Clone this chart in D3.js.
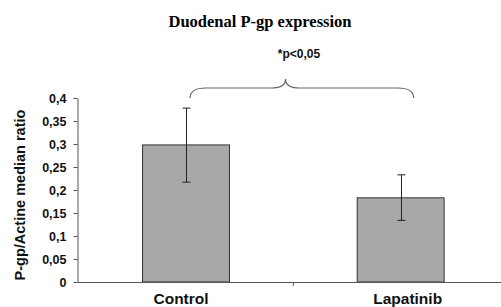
<!DOCTYPE html>
<html>
<head>
<meta charset="utf-8">
<script src="https://cdn.jsdelivr.net/npm/d3@7"></script>
<style>
  body { margin: 0; background: #fff; }
  svg { display: block; }
</style>
</head>
<body>
<div id="chart"></div>
<script>
// data
var categories = ["Control", "Lapatinib"];
var values     = [0.298, 0.183];
var errLow     = [0.217, 0.134];
var errHigh    = [0.378, 0.233];
var yTicks     = [0, 0.05, 0.1, 0.15, 0.2, 0.25, 0.3, 0.35, 0.4];

var width = 501, height = 307;
var sans = '"Liberation Sans", Arial, sans-serif';

var svg = d3.select('#chart').append('svg')
    .attr('width', width)
    .attr('height', height);

var x = d3.scaleBand()
    .domain(categories)
    .range([78.7, 508])
    .paddingInner(0.595)
    .paddingOuter(0.2975);

var y = d3.scaleLinear()
    .domain([0, 0.4])
    .range([282, 98]);

var fmt = function(d) { return String(d).replace('.', ','); };

// title
svg.append('text')
    .attr('x', 260)
    .attr('y', 27)
    .attr('text-anchor', 'middle')
    .attr('font-family', '"Liberation Serif", "Times New Roman", serif')
    .attr('font-weight', 'bold')
    .attr('font-size', '16.5px')
    .text('Duodenal P-gp expression');

// y axis
var yAxis = svg.append('g')
    .attr('transform', 'translate(77.5,0)')
    .call(d3.axisLeft(y).tickValues(yTicks).tickFormat(fmt).tickSize(4).tickSizeOuter(0));
yAxis.select('.domain').attr('stroke', '#555');
yAxis.selectAll('.tick line').attr('stroke', '#555');
yAxis.selectAll('.tick text')
    .attr('x', -11)
    .attr('font-family', sans)
    .attr('font-weight', 'bold')
    .attr('font-size', '12.5px')
    .attr('fill', '#111');

// y title
svg.append('text')
    .attr('transform', 'translate(25,' + (y(0.2) + 5) + ') rotate(-90)')
    .attr('text-anchor', 'middle')
    .attr('font-family', sans)
    .attr('font-weight', 'bold')
    .attr('font-size', '14.5px')
    .attr('fill', '#111')
    .text('P-gp/Actine median ratio');

// bars
svg.selectAll('.bar')
    .data(categories)
    .enter()
    .append('rect')
    .attr('class', 'bar')
    .attr('x', function(d) { return x(d); })
    .attr('y', function(d, i) { return y(values[i]); })
    .attr('width', x.bandwidth())
    .attr('height', function(d, i) { return y(0) - y(values[i]); })
    .attr('fill', '#a8a8a8')
    .attr('stroke', '#333')
    .attr('stroke-width', 1);

// x axis (category boundaries as ticks)
var x0 = x.range()[0], x1 = x.range()[1];
svg.append('line')
    .attr('x1', x0 - 1).attr('x2', x1)
    .attr('y1', y(0) + 0.5).attr('y2', y(0) + 0.5)
    .attr('stroke', '#555');
var mid = (x(categories[0]) + x.bandwidth() / 2 + x(categories[1]) + x.bandwidth() / 2) / 2;
svg.append('line')
    .attr('x1', mid).attr('x2', mid)
    .attr('y1', y(0)).attr('y2', y(0) + 4)
    .attr('stroke', '#555');

var labelShift = [-5, 7];
svg.selectAll('.xlab')
    .data(categories)
    .enter()
    .append('text')
    .attr('class', 'xlab')
    .attr('x', function(d, i) { return x(d) + x.bandwidth() / 2 + labelShift[i]; })
    .attr('y', 304)
    .attr('text-anchor', 'middle')
    .attr('font-family', sans)
    .attr('font-weight', 'bold')
    .attr('font-size', '15.5px')
    .attr('fill', '#111')
    .text(function(d) { return d; });

// error bars
var eb = svg.selectAll('.err')
    .data(categories)
    .enter()
    .append('g')
    .attr('class', 'err')
    .attr('stroke', '#222')
    .attr('stroke-width', 1);
var cx = function(d) { return Math.round(x(d) + x.bandwidth() / 2) + 0.5; };
eb.append('line')
    .attr('x1', cx).attr('x2', cx)
    .attr('y1', function(d, i) { return y(errHigh[i]); })
    .attr('y2', function(d, i) { return y(errLow[i]); });
eb.append('line')
    .attr('x1', function(d) { return cx(d) - 4; }).attr('x2', function(d) { return cx(d) + 4; })
    .attr('y1', function(d, i) { return y(errHigh[i]); })
    .attr('y2', function(d, i) { return y(errHigh[i]); });
eb.append('line')
    .attr('x1', function(d) { return cx(d) - 4; }).attr('x2', function(d) { return cx(d) + 4; })
    .attr('y1', function(d, i) { return y(errLow[i]); })
    .attr('y2', function(d, i) { return y(errLow[i]); });

// significance brace
var bl = x(categories[0]) + x.bandwidth() / 2 + 4;
var br = x(categories[1]) + x.bandwidth() / 2 + 13;
var bt = 285.5, yEnd = y(0.4), yMid = 88, yTip = 79;
var brace = d3.path();
brace.moveTo(bl, yEnd);
brace.quadraticCurveTo(bl, yMid, bl + 16, yMid);
brace.lineTo(bt - 14, yMid);
brace.quadraticCurveTo(bt, yMid, bt, yTip);
brace.quadraticCurveTo(bt, yMid, bt + 14, yMid);
brace.lineTo(br - 16, yMid);
brace.quadraticCurveTo(br, yMid, br, yEnd);
svg.append('path')
    .attr('d', brace.toString())
    .attr('fill', 'none')
    .attr('stroke', '#666')
    .attr('stroke-width', 1.2);

svg.append('text')
    .attr('x', 299)
    .attr('y', 58)
    .attr('text-anchor', 'middle')
    .attr('font-family', sans)
    .attr('font-weight', 'bold')
    .attr('font-size', '12px')
    .attr('fill', '#111')
    .text('*p<0,05');
</script>
</body>
</html>
